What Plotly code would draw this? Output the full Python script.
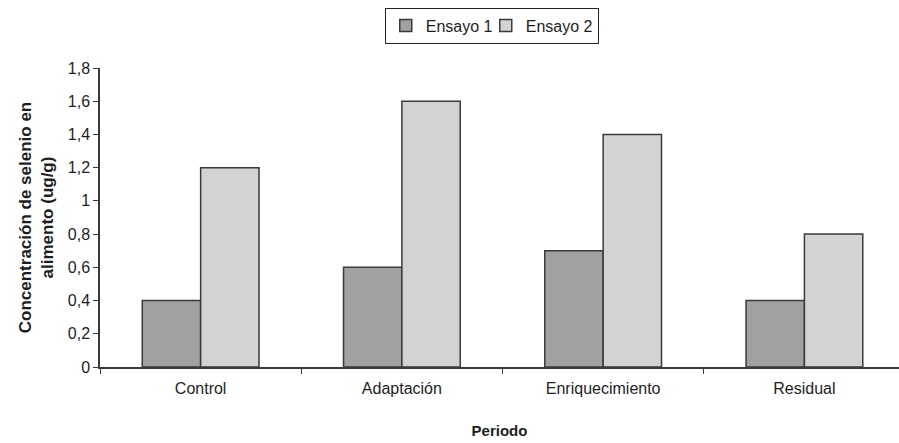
import plotly.graph_objects as go

# Selenium concentration in feed by period, two trials
periodos = ["Control", "Adaptación", "Enriquecimiento", "Residual"]
ensayo_1 = [0.4, 0.6, 0.7, 0.4]
ensayo_2 = [1.2, 1.6, 1.4, 0.8]
y_ticks = [0, 0.2, 0.4, 0.6, 0.8, 1.0, 1.2, 1.4, 1.6, 1.8]
y_tick_text = ["0", "0,2", "0,4", "0,6", "0,8", "1", "1,2", "1,4", "1,6", "1,8"]

FONT = "Liberation Sans, Arial, sans-serif"
EDGE = "#3a3a3a"

fig = go.Figure()
fig.add_trace(go.Bar(
    name="Ensayo 1", x=periodos, y=ensayo_1, legendwidth=55,
    marker=dict(color="#a1a1a1", line=dict(color=EDGE, width=1.5)),
))
fig.add_trace(go.Bar(
    name="Ensayo 2", x=periodos, y=ensayo_2,
    marker=dict(color="#d3d3d3", line=dict(color=EDGE, width=1.5)),
))

fig.update_layout(
    width=899, height=443,
    margin=dict(l=100, r=0, t=68, b=76),
    paper_bgcolor="white", plot_bgcolor="white",
    font=dict(family=FONT, size=16, color="#1e1e1e"),
    barmode="group", bargap=0.42, bargroupgap=0,
    showlegend=True,
    legend=dict(
        orientation="h", xref="container", yref="container",
        x=0.547, xanchor="center", y=0.983, yanchor="top",
        bordercolor="#222222", borderwidth=1,
        font=dict(size=16), itemwidth=30, tracegroupgap=0,
        traceorder="normal",
    ),
    xaxis=dict(
        range=[-0.5, 3.47],
        showline=True, linecolor=EDGE, linewidth=1.5,
        ticks="outside", tickson="boundaries", ticklen=5, tickcolor=EDGE,
        showgrid=False, zeroline=False,
        tickfont=dict(size=16), ticklabelstandoff=6,
        title=dict(text="<b>Periodo</b>", font=dict(size=15), standoff=30),
    ),
    yaxis=dict(
        range=[0, 1.8],
        tickvals=y_ticks, ticktext=y_tick_text,
        showline=True, linecolor=EDGE, linewidth=1.5,
        ticks="outside", ticklen=5, tickcolor=EDGE,
        showgrid=False, zeroline=False,
        tickfont=dict(size=16),
        title=dict(text="<b>Concentración de selenio en<br>alimento (ug/g)</b>",
                   font=dict(size=17), standoff=10),
    ),
)

fig.write_html("out.html")
